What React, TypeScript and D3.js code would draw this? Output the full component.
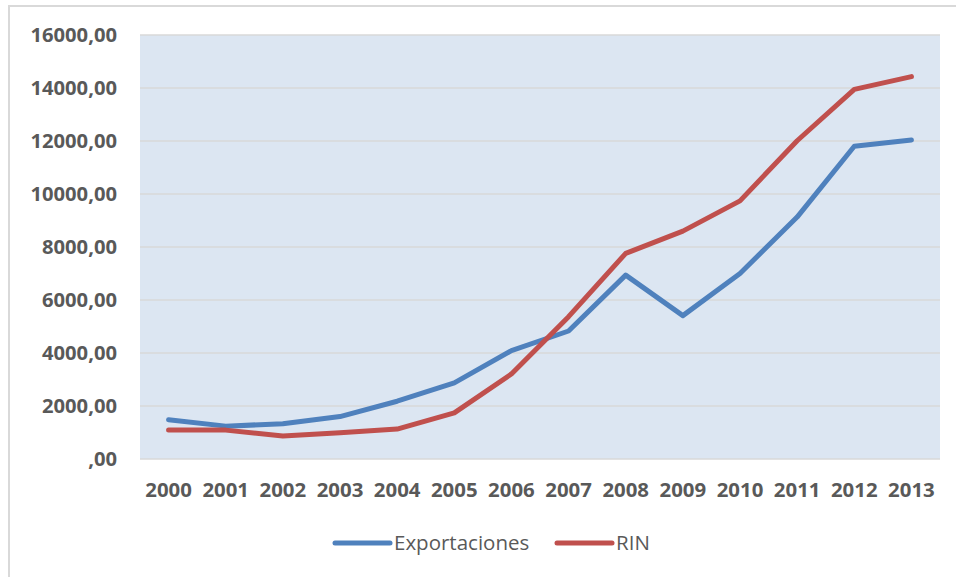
import React from "react";
import * as d3 from "d3";

const years = ["2000","2001","2002","2003","2004","2005","2006","2007","2008","2009","2010","2011","2012","2013"];
const exportaciones = [1480, 1240, 1330, 1600, 2180, 2870, 4090, 4830, 6940, 5410, 7000, 9130, 11800, 12040];
const rin = [1090, 1090, 870, 990, 1130, 1740, 3210, 5370, 7760, 8600, 9740, 12010, 13950, 14430];
const yTicks = [0, 2000, 4000, 6000, 8000, 10000, 12000, 14000, 16000];
const seriesNames = ["Exportaciones", "RIN"];
const colors = ["#4F81BD", "#C0504D"];

const W = 956, H = 577;
const plot = { x0: 140, x1: 940, y0: 35, y1: 459 };

function fmt(v: number) {
  if (v === 0) return ",00";
  return v.toFixed(2).replace(".", ",");
}

export default function App() {
  const x = d3.scaleBand<string>().domain(years).range([plot.x0, plot.x1]);
  const y = d3.scaleLinear().domain([0, 16000]).range([plot.y1, plot.y0]);
  const cx = (yr: string) => (x(yr) as number) + x.bandwidth() / 2;
  const line = d3.line<number>().x((_, i) => cx(years[i])).y((d) => y(d));
  const data = [exportaciones, rin];
  const font = "'Open Sans', sans-serif";
  const legendX = [335, 557];
  return (
    <svg width={W} height={H} style={{ position: "absolute", left: 0, top: 0, background: "#fff" }}>
      <rect x={9} y={6} width={W + 20} height={H + 20} fill="#fff" stroke="#D9D9D9" strokeWidth={2} />
      <rect x={plot.x0} y={plot.y0} width={plot.x1 - plot.x0} height={plot.y1 - plot.y0} fill="#DCE6F2" />
      {yTicks.map((t) => (
        <g key={t}>
          <line x1={plot.x0} x2={plot.x1} y1={y(t)} y2={y(t)} stroke="#D9D9D9" strokeWidth={1.5} />
          <text x={117} y={y(t)} dy="0.36em" textAnchor="end" fontFamily={font} fontWeight={700} fontSize={20.2} fill="#595959">
            {fmt(t)}
          </text>
        </g>
      ))}
      {years.map((yr) => (
        <text key={yr} x={cx(yr)} y={497} textAnchor="middle" fontFamily={font} fontWeight={700} fontSize={20.4} fill="#595959">
          {yr}
        </text>
      ))}
      {data.map((d, i) => (
        <path key={i} d={line(d) as string} fill="none" stroke={colors[i]} strokeWidth={5} strokeLinejoin="round" strokeLinecap="round" />
      ))}
      {seriesNames.map((n, i) => (
        <g key={n}>
          <line x1={legendX[i]} x2={legendX[i] + 55} y1={543} y2={543} stroke={colors[i]} strokeWidth={5} strokeLinecap="round" />
          <text x={legendX[i] + 59} y={543} dy="0.36em" fontFamily={font} fontSize={20.5} fill="#595959">
            {n}
          </text>
        </g>
      ))}
    </svg>
  );
}
